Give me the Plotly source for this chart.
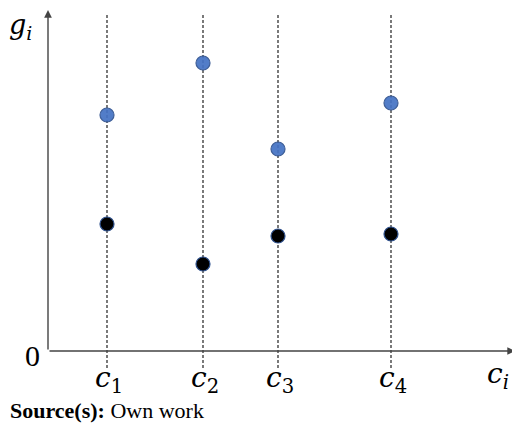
import plotly.graph_objects as go

# positions of the c_i along the horizontal axis (chart units)
c_labels = ["1", "2", "3", "4"]
c_pos = [59, 155, 230, 343]
g_blue = [236, 288, 202, 248]
g_black = [127, 87, 115, 117]

fig = go.Figure()

# dashed vertical guides
for x in c_pos:
    fig.add_trace(go.Scatter(x=[x, x], y=[-17, 337], mode="lines",
                             line=dict(color="#333333", width=1.3, dash="3px,2px"),
                             hoverinfo="skip", showlegend=False))

fig.add_trace(go.Scatter(x=c_pos, y=g_blue, mode="markers",
                         marker=dict(size=14, color="#4472C4", opacity=0.92,
                                     line=dict(color="#2F528F", width=1.2)),
                         showlegend=False))
fig.add_trace(go.Scatter(x=c_pos, y=g_black, mode="markers",
                         marker=dict(size=14, color="black",
                                     line=dict(color="#2F528F", width=1.2)),
                         showlegend=False))

# axes with arrow heads
fig.add_annotation(x=0, y=341, ax=0, ay=0, xref="x", yref="y", axref="x", ayref="y",
                   showarrow=True, arrowhead=2, arrowsize=1.1, arrowwidth=1.4,
                   arrowcolor="#444444", text="")
fig.add_annotation(x=467, y=0, ax=0, ay=0, xref="x", yref="y", axref="x", ayref="y",
                   showarrow=True, arrowhead=2, arrowsize=1.1, arrowwidth=1.4,
                   arrowcolor="#444444", text="")

serif = "DejaVu Serif"
times = "Liberation Serif"
fig.add_annotation(x=-16, y=-4, text="0", showarrow=False,
                   font=dict(family=times, size=30, color="black"))
for lab, x in zip(c_labels, c_pos):
    fig.add_annotation(x=x + 2, y=-28, text="<i>c</i><sub>" + lab + "</sub>", showarrow=False,
                       font=dict(family=serif, size=28, color="black"))
fig.add_annotation(x=450, y=-24, text="<i>c</i><sub><i>i</i></sub>", showarrow=False,
                   font=dict(family=serif, size=28, color="black"))
fig.add_annotation(x=-40, y=343, xanchor="left", yanchor="top", text="<i>g</i><sub><i>i</i></sub>",
                   showarrow=False, borderpad=0,
                   font=dict(family=serif, size=27, color="black"))
fig.add_annotation(x=-40, y=-59, xanchor="left", showarrow=False,
                   text="<b>Source(s):</b> Own work",
                   font=dict(family=times, size=22, color="black"))

# page body has an 8px margin, so ranges are shifted to compensate
fig.update_xaxes(range=[-40, 480], visible=False, fixedrange=True)
fig.update_yaxes(range=[-85, 343], visible=False, fixedrange=True)
fig.update_layout(width=520, height=428, margin=dict(l=0, r=0, t=0, b=0),
                  plot_bgcolor="white", paper_bgcolor="white")

fig.write_html("out.html")
